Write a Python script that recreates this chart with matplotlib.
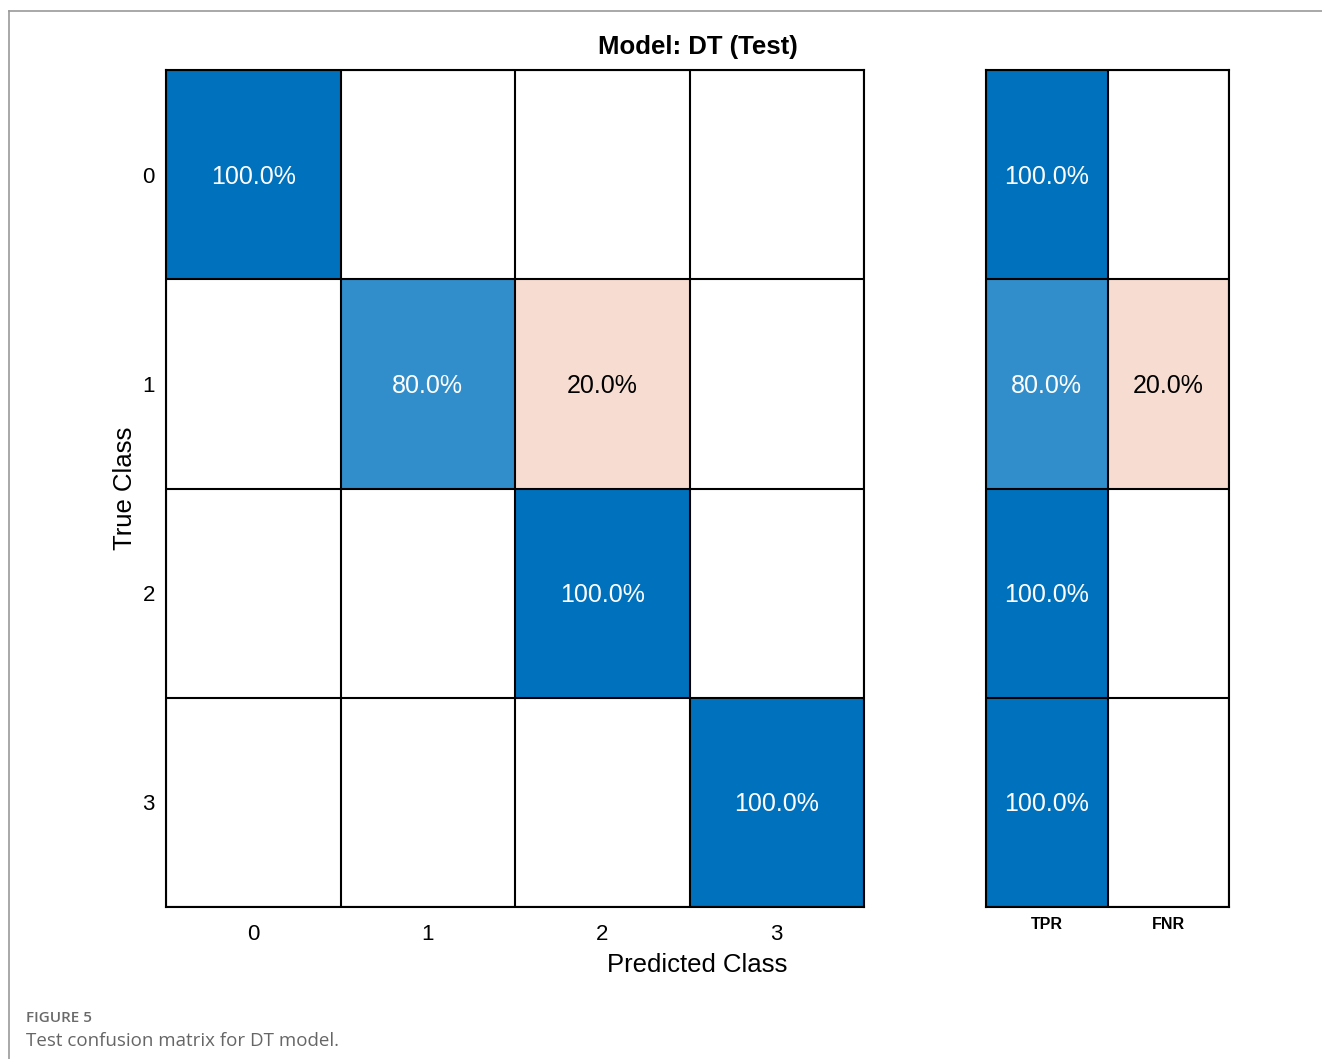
import matplotlib
matplotlib.use("Agg")
import matplotlib.pyplot as plt
import numpy as np
from matplotlib.lines import Line2D

plt.rcParams['font.family'] = ['Liberation Sans', 'DejaVu Sans']

# row-normalised confusion matrix (%), rows = true class, cols = predicted
classes = ['0', '1', '2', '3']
conf_pct = np.array([[100.0, 0.0, 0.0, 0.0],
                     [0.0, 80.0, 20.0, 0.0],
                     [0.0, 0.0, 100.0, 0.0],
                     [0.0, 0.0, 0.0, 100.0]])
summary_cols = ['TPR', 'FNR']
tpr = np.array([100.0, 80.0, 100.0, 100.0])
fnr = np.array([0.0, 20.0, 0.0, 0.0])

blue = np.array([0, 114, 189]) / 255.
red = np.array([217, 83, 25]) / 255.
white = np.ones(3)


def shade(val, base):
    f = val / 100.
    return white - (white - base) * f


def cell_colors(vals, good):
    # good: mask of cells that count as correct (blue), the rest are red
    rgb = np.ones(vals.shape + (3,))
    for i in range(vals.shape[0]):
        for j in range(vals.shape[1]):
            rgb[i, j] = shade(vals[i, j], blue if good[i, j] else red)
    return rgb


def draw_grid(ax, vals, good, fs):
    nr, nc = vals.shape
    ax.imshow(cell_colors(vals, good), aspect='auto', interpolation='nearest',
              extent=(-0.5, nc - 0.5, nr - 0.5, -0.5))
    for k in range(nc + 1):
        ax.axvline(k - 0.5, color='black', lw=1.5)
    for k in range(nr + 1):
        ax.axhline(k - 0.5, color='black', lw=1.5)
    for i in range(nr):
        for j in range(nc):
            v = vals[i, j]
            if v == 0:
                continue
            col = 'white' if good[i, j] else 'black'
            ax.text(j, i + 0.01, f'{v:.1f}%', ha='center', va='center',
                    fontsize=fs, color=col)
    ax.set_xlim(-0.5, nc - 0.5)
    ax.set_ylim(nr - 0.5, -0.5)
    ax.tick_params(length=0)
    for s in ax.spines.values():
        s.set_linewidth(1.5)


W, H = 1322, 1059
fig = plt.figure(figsize=(W / 100, H / 100), dpi=100)

ax = fig.add_axes([166 / W, 1 - 907 / H, 698 / W, 837 / H])
draw_grid(ax, conf_pct, np.eye(4, dtype=bool), 18)
ax.set_xticks(range(4))
ax.set_xticklabels(classes, fontsize=16)
ax.set_yticks(range(4))
ax.set_yticklabels(classes, fontsize=16)
ax.tick_params(axis='x', pad=12)
ax.tick_params(axis='y', pad=8)
ax.set_ylabel('True Class', fontsize=18.5, labelpad=4)

ax2 = fig.add_axes([986 / W, 1 - 907 / H, 243 / W, 837 / H])
summary = np.column_stack([tpr, fnr])
good2 = np.zeros(summary.shape, dtype=bool)
good2[:, 0] = True
draw_grid(ax2, summary, good2, 18)
ax2.set_xticks(range(2))
ax2.set_xticklabels(summary_cols, fontsize=11.5, fontweight='bold')
ax2.set_yticks([])
ax2.tick_params(axis='x', pad=7)

fig.text(697.5 / W, 1 - 47 / H, 'Model: DT (Test)', ha='center', va='center',
         fontsize=18.5, fontweight='bold')
fig.text(697.5 / W, 1 - 965 / H, 'Predicted Class', ha='center', va='center',
         fontsize=18.5)

# page frame and caption
fig.add_artist(Line2D([9 / W, 1], [1 - 11 / H, 1 - 11 / H], color='#999999', lw=1.2))
fig.add_artist(Line2D([9 / W, 9 / W], [0, 1 - 11 / H], color='#999999', lw=1.2))
fig.text(26 / W, 1 - 1018 / H, 'FIGURE 5', ha='left', va='center',
         fontsize=11, fontweight='semibold', color='#6a6a6a',
         family=['Open Sans', 'DejaVu Sans'])
fig.text(26 / W, 1 - 1041 / H, 'Test confusion matrix for DT model.', ha='left',
         va='center', fontsize=13.5, color='#666666',
         family=['Open Sans', 'DejaVu Sans'])

fig.savefig('out.png', dpi=100)
